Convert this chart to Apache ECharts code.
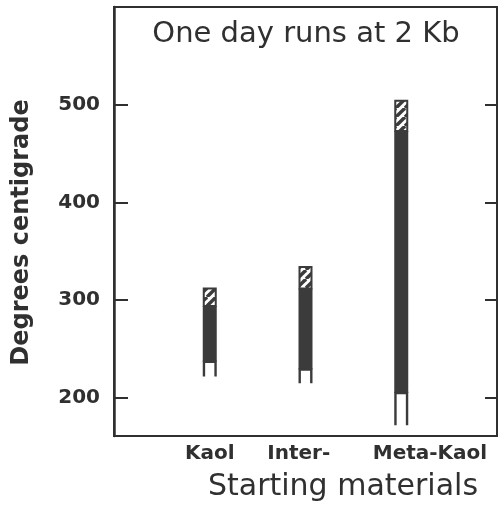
<!DOCTYPE html>
<html>
<head>
<meta charset="utf-8">
<script src="https://cdn.jsdelivr.net/npm/echarts@6/dist/echarts.min.js"></script>
<style>
  html, body { margin: 0; padding: 0; background: #fff; }
  #chart { width: 498px; height: 513px; }
</style>
</head>
<body>
<div id="chart"></div>
<script>
const materials = ["Kaol", "Inter-", "Meta-Kaol"];
// temperature ranges (degrees C) for each starting material
const openLow = [222, 215, 172];
const solidLow = [237, 229, 205];
const hatchLow = [294, 312, 473];
const topTemp = [313, 335, 505];
const yTicks = [200, 300, 400, 500];

const ink = "#303030";
const barInk = "#3b3b3b";
const font = "DejaVu Sans";

// diagonal hatch pattern for the upper part of each bar
const makeHatch = () => {
  const c = document.createElement("canvas");
  c.width = 9;
  c.height = 9;
  const ctx = c.getContext("2d");
  ctx.fillStyle = "#fff";
  ctx.fillRect(0, 0, 9, 9);
  ctx.strokeStyle = barInk;
  ctx.lineWidth = 3.4;
  [-9, 0, 9].forEach((o) => {
    ctx.beginPath();
    ctx.moveTo(o, 9);
    ctx.lineTo(o + 9, 0);
    ctx.stroke();
  });
  return c;
};
const hatch = { image: makeHatch(), repeat: "repeat" };

const rows = materials.map((m, i) => [i + 1, openLow[i], solidLow[i], hatchLow[i], topTemp[i]]);

const renderItem = (params, api) => {
  const x = api.value(0);
  const cx = api.coord([x, 0])[0];
  const yTop = api.coord([x, api.value(4)])[1];
  const yHatch = api.coord([x, api.value(3)])[1];
  const ySolid = api.coord([x, api.value(2)])[1];
  const yOpen = api.coord([x, api.value(1)])[1];
  const w = 14;
  const l = cx - w / 2;
  return {
    type: "group",
    children: [
      {
        type: "rect",
        shape: { x: l, y: yHatch, width: w, height: ySolid - yHatch },
        style: { fill: barInk },
      },
      {
        type: "rect",
        shape: { x: l + 1, y: yTop + 1, width: w - 2, height: yHatch - yTop - 1 },
        style: { fill: hatch, stroke: barInk, lineWidth: 2 },
      },
      {
        type: "polyline",
        shape: {
          points: [
            [l + 1.2, yOpen],
            [l + 1.2, ySolid],
            [l + w - 1.2, ySolid],
            [l + w - 1.2, yOpen],
          ],
        },
        style: { fill: null, stroke: barInk, lineWidth: 2.4 },
      },
    ],
  };
};

const labelAt = [1, 1.93, 3.3];

const chart = echarts.init(document.getElementById("chart"));
chart.setOption({
  animation: false,
  backgroundColor: "#fff",
  title: {
    text: "One day runs at 2 Kb",
    left: 301,
    top: 15,
    textAlign: "center",
    textStyle: { fontFamily: font, fontSize: 29, fontWeight: "normal", color: ink },
  },
  grid: {
    left: 114,
    right: 1,
    top: 7,
    bottom: 77,
    show: true,
    borderColor: ink,
    borderWidth: 2,
  },
  xAxis: {
    type: "value",
    min: 0,
    max: 4,
    splitLine: { show: false },
    axisLine: { show: true, lineStyle: { color: ink, width: 2 } },
    axisTick: { show: false },
    axisLabel: {
      customValues: labelAt,
      margin: 8,
      fontFamily: font,
      fontSize: 20,
      fontWeight: "bold",
      color: ink,
      formatter: (v) => {
        const i = labelAt.indexOf(v);
        return i >= 0 ? materials[i] : "";
      },
    },
    name: "Starting materials",
    nameLocation: "middle",
    nameGap: 36,
    nameTextStyle: {
      fontFamily: font,
      fontSize: 30,
      color: ink,
      padding: [0, 0, 0, 75],
    },
  },
  yAxis: [
    {
      type: "value",
      min: 161,
      max: 600,
      position: "left",
      splitLine: { show: false },
      axisLine: { show: true, lineStyle: { color: ink, width: 2.5 } },
      axisTick: { inside: true, length: 14, customValues: yTicks, lineStyle: { color: ink, width: 2 } },
      axisLabel: {
        customValues: yTicks,
        margin: 14,
        fontFamily: font,
        fontSize: 20,
        fontWeight: "bold",
        color: ink,
      },
      name: "Degrees centigrade",
      nameLocation: "middle",
      nameGap: 80,
      nameTextStyle: {
        fontFamily: font,
        fontSize: 24,
        fontWeight: "bold",
        color: ink,
        padding: [0, 22, 0, 0],
      },
    },
    {
      type: "value",
      min: 161,
      max: 600,
      position: "right",
      splitLine: { show: false },
      axisLine: { show: true, lineStyle: { color: ink, width: 2 } },
      axisTick: { inside: true, length: 12, customValues: yTicks, lineStyle: { color: ink, width: 2 } },
      axisLabel: { show: false },
    },
  ],
  series: [
    {
      type: "custom",
      renderItem: renderItem,
      data: rows,
      encode: { x: 0, y: [1, 4] },
      clip: false,
    },
  ],
});
</script>
</body>
</html>
